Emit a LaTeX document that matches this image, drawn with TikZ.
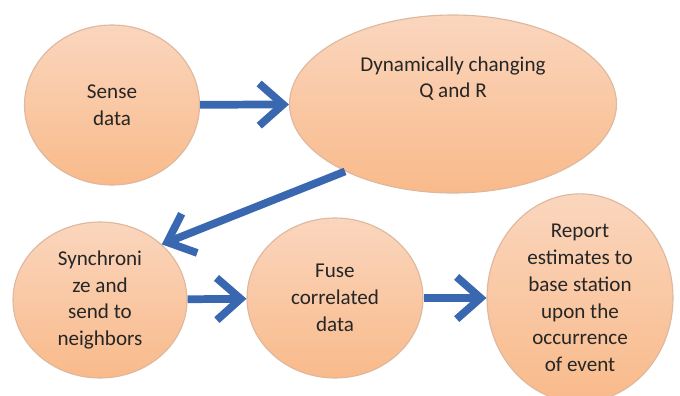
\documentclass[tikz,border=0pt]{standalone}
\usepackage{fontspec}
\setmainfont{Carlito}
\usetikzlibrary{arrows.meta,shapes.geometric}

\definecolor{peachtop}{RGB}{250,214,190}
\definecolor{peachbot}{RGB}{249,186,138}
\definecolor{peachline}{RGB}{222,184,158}
\definecolor{flowblue}{RGB}{58,104,176}

\begin{document}
\begin{tikzpicture}
  [x=0.025cm,y=-0.025cm,
   every node/.style={ellipse,draw=peachline,line width=0.8pt,top color=peachtop,bottom color=peachbot,
     align=center,inner sep=0pt,font=\fontsize{15}{19}\selectfont,text=black!85},
   flow/.style={draw=flowblue,line width=5.5pt,-{Straight Barb[length=17pt,width=30pt]}}]
  \useasboundingbox (0,0) rectangle (680,396);
  \node[minimum width=175*0.025cm,minimum height=160*0.025cm] (sense) at (112,105) {Sense\\data};
  \node[minimum width=327*0.025cm,minimum height=178*0.025cm] (dyn) at (453,104) {Dynamically changing\\Q and R\\\mbox{}\\\mbox{}};
  \node[minimum width=174*0.025cm,minimum height=156*0.025cm] (sync) at (100,300) {Synchroni\\ze and\\send to\\neighbors};
  \node[minimum width=176*0.025cm,minimum height=160*0.025cm] (fuse) at (335,298) {Fuse\\correlated\\data};
  \node[minimum width=186*0.025cm,minimum height=190*0.025cm] (report) at (580,298) {Report\\estimates to\\base station\\upon the\\occurrence\\of event};

\foreach \from/\to in
{sense/dyn, dyn.212/sync.42, sync/fuse, fuse/report}
    \draw[flow] (\from) -- (\to);
\end{tikzpicture}
\end{document}
